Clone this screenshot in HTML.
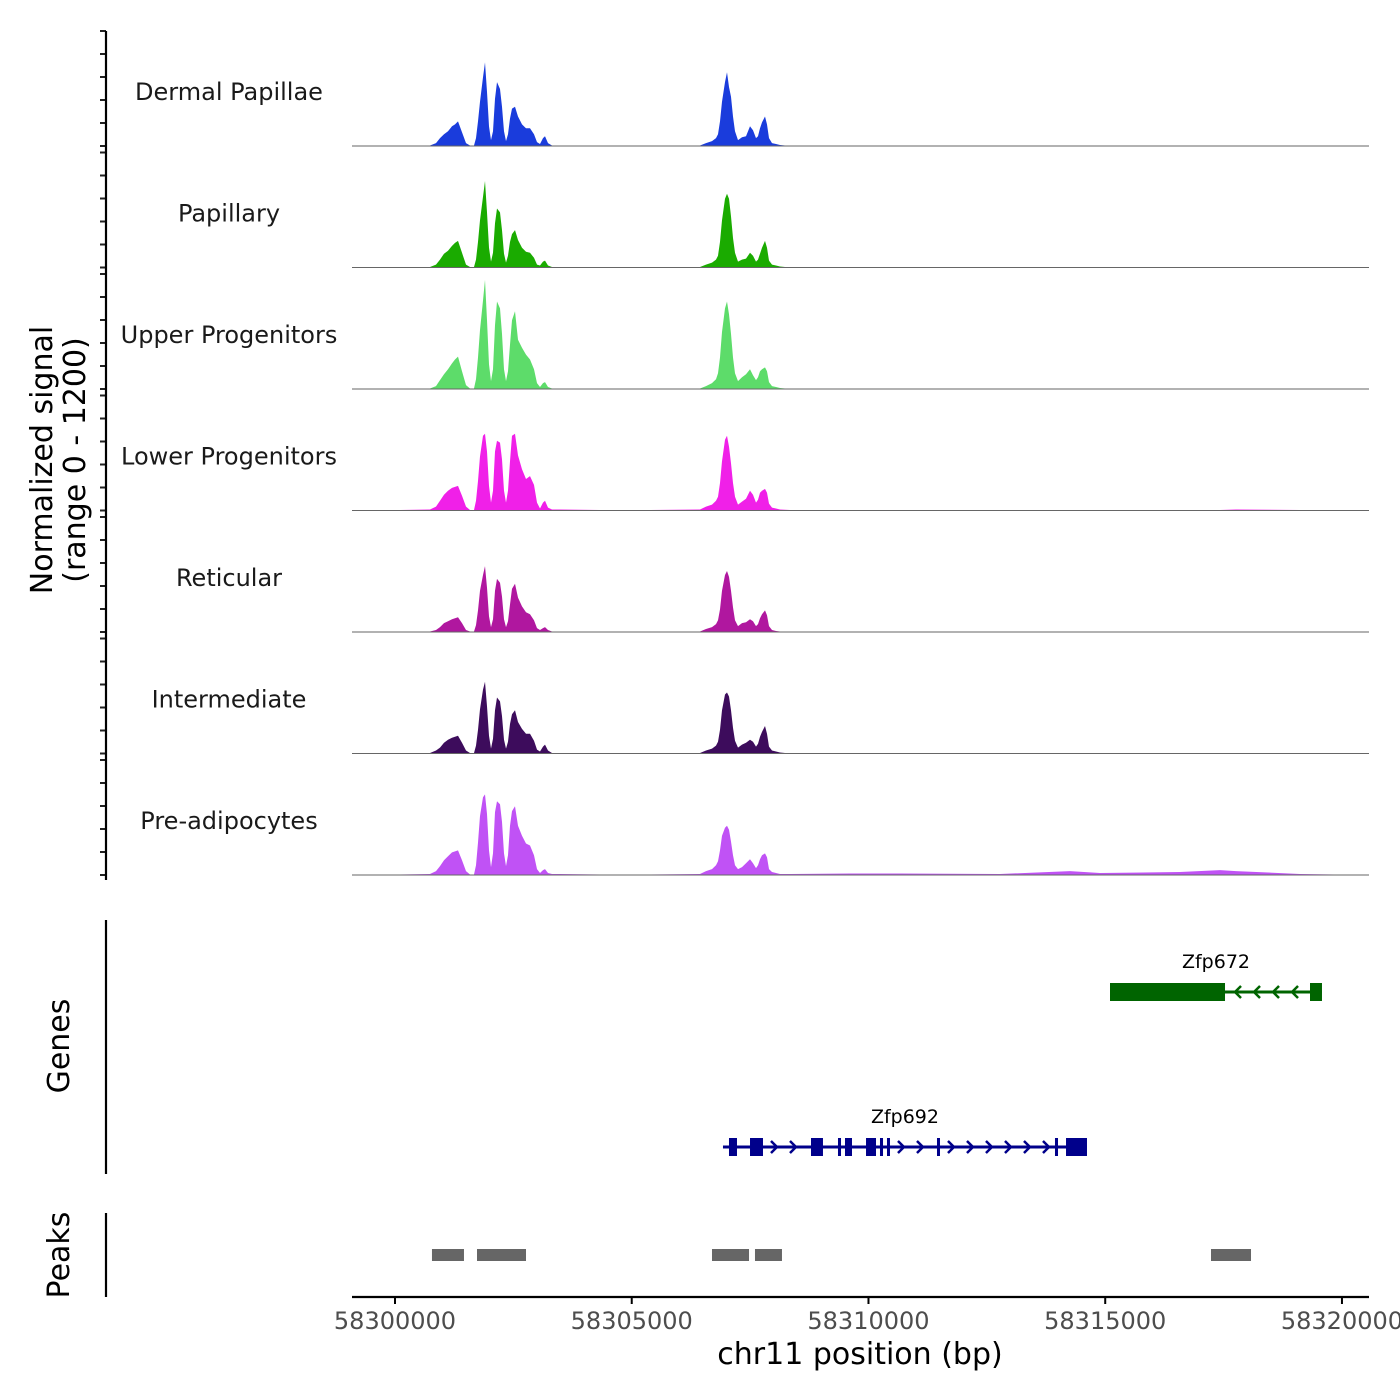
<!DOCTYPE html>
<html><head><meta charset="utf-8"><style>
body{margin:0;background:#fff}
svg{display:block;font-family:"DejaVu Sans","Liberation Sans",sans-serif}
</style></head><body>
<svg id="c" width="1400" height="1400" viewBox="0 0 1400 1400">
<g id="tracks"></g>
<g id="axes"></g>
<g id="genes"></g>
<g id="peaks"></g>
<text transform="translate(52,460) rotate(-90)" text-anchor="middle" font-size="30" fill="#000">Normalized signal</text>
<text transform="translate(85,460) rotate(-90)" text-anchor="middle" font-size="30" fill="#000">(range 0 - 1200)</text>
<text transform="translate(69,1046) rotate(-90)" text-anchor="middle" font-size="30" fill="#000">Genes</text>
<text transform="translate(69,1255) rotate(-90)" text-anchor="middle" font-size="30" fill="#000">Peaks</text>
<text x="860" y="1364" text-anchor="middle" font-size="30" fill="#000">chr11 position (bp)</text>
</svg>
<script>
const positions=[58299092,58300106,58300739,58300866,58300950,58301035,58301119,58301204,58301267,58301331,58301415,58301500,58301584,58301668,58301711,58301753,58301795,58301859,58301901,58301943,58301985,58302028,58302070,58302112,58302154,58302218,58302260,58302302,58302344,58302387,58302429,58302471,58302534,58302598,58302682,58302767,58302851,58302936,58302999,58303062,58303126,58303168,58303231,58303316,58303485,58304330,58305386,58306442,58306568,58306695,58306780,58306822,58306864,58306906,58306970,58307012,58307054,58307096,58307139,58307181,58307244,58307329,58307413,58307498,58307561,58307624,58307667,58307709,58307751,58307814,58307857,58307899,58307962,58308047,58308131,58308342,58309610,58310666,58312778,58314256,58314890,58316579,58317424,58317762,58319114,58320571];
const trackNames=["Dermal Papillae","Papillary","Upper Progenitors","Lower Progenitors","Reticular","Intermediate","Pre-adipocytes"];
const trackColors=["#1a3cdc","#1aab00","#5ddc6a","#f020e8","#b0179f","#3d0c5c","#c052f5"];
const dermal=[0,0,5,30,80,120,150,200,220,250,140,30,5,5,80,250,450,700,850,550,200,60,150,480,650,580,400,150,50,120,280,380,400,300,220,180,180,120,40,20,80,100,30,5,5,0,0,5,30,50,80,120,250,450,650,750,600,500,300,150,60,90,100,200,160,80,100,180,240,300,220,80,30,20,10,0,0,0,0,0,0,0,0,5,0,0];
const papillary=[0,0,5,30,80,140,170,220,250,270,150,30,5,5,80,260,480,720,880,560,200,60,150,450,600,560,380,140,50,120,260,340,380,280,200,160,150,100,30,20,60,70,20,5,5,0,0,5,30,50,80,120,260,480,700,750,700,520,300,150,60,80,90,150,120,60,80,140,200,270,200,70,30,20,10,0,0,0,0,0,0,0,0,5,0,0];
const upper=[0,0,5,30,90,150,200,260,300,330,180,40,5,5,100,320,600,900,1110,700,250,80,200,650,890,820,560,200,80,180,450,700,790,500,420,350,300,200,60,20,60,70,20,5,5,0,0,5,30,60,100,160,320,580,820,890,760,560,320,160,80,120,150,200,140,90,120,180,200,220,180,70,30,20,10,0,0,0,0,0,0,0,0,0,0,0];
const lower=[0,5,10,40,100,160,200,230,240,250,150,40,5,5,100,300,550,760,780,600,250,80,200,600,710,690,520,200,80,200,500,760,780,560,420,320,350,260,80,20,80,100,30,10,10,5,5,10,40,60,100,140,280,500,720,760,650,480,280,140,60,90,120,200,160,80,110,180,200,220,180,70,30,20,10,5,5,5,5,5,5,5,5,10,5,0];
const reticular=[0,0,5,20,50,90,110,130,140,150,90,20,5,5,70,220,420,580,670,450,160,50,130,420,540,500,360,130,50,110,280,440,490,350,260,200,180,120,40,20,40,50,20,5,5,0,0,5,30,50,80,120,230,420,580,620,560,420,250,120,60,90,100,130,110,60,80,140,180,220,170,60,20,10,5,0,0,0,0,0,0,0,0,5,0,0];
const intermediate=[0,0,5,30,60,110,140,160,170,180,110,30,5,5,80,240,450,650,730,480,180,50,150,440,570,530,380,140,50,120,300,400,440,320,250,200,200,130,40,20,70,90,30,5,5,0,0,5,30,50,80,120,240,440,600,620,580,440,260,130,60,90,110,140,120,70,100,170,220,280,200,70,30,20,10,0,0,0,0,0,0,0,0,5,0,0];
const preadipocytes=[0,5,10,40,90,150,190,230,240,250,150,40,5,5,100,330,600,790,820,620,250,80,220,640,750,720,540,220,90,200,500,650,700,500,400,320,300,200,60,20,50,60,20,10,10,5,5,10,40,60,100,140,250,400,480,500,460,340,200,100,60,80,120,160,120,70,100,160,200,220,180,60,30,20,10,10,15,15,10,40,20,30,50,40,10,0];
const trackValues=[dermal,papillary,upper,lower,reticular,intermediate,preadipocytes];
const xTicks=[58300000,58305000,58310000,58315000,58320000];
const peakStarts=[58300781,58301732,58306695,58307603,58317234];
const peakEnds=[58301457,58302767,58307477,58308173,58318079];
const geneNames=["Zfp672","Zfp692"];
const geneStarts=[58315101,58306927];
const geneEnds=[58319578,58314615];
const geneStrands=["-","+"];
const geneExonStarts=[[58315101,58319325],[58307054,58307498,58308786,58309356,58309504,58309948,58310243,58310391,58311447,58313939,58314172]];
const geneExonEnds=[[58317530,58319578],[58307223,58307772,58309039,58309420,58309652,58310159,58310307,58310454,58311510,58314003,58314615]];
const geneColors=["#006400","#00008b"];
const geneRows=[992,1147];

const NS="http://www.w3.org/2000/svg";
const X0=352,X1=1369,BP0=58299092,BP1=58320571;
const xs=bp=>X0+(bp-BP0)/(BP1-BP0)*(X1-X0);
const YMAX=1200,TH=118,base0=146,step=121.5;
const ys=(v,b)=>b-v/YMAX*TH;
function mk(tag,attrs,parent){const e=document.createElementNS(NS,tag);for(const k in attrs)e.setAttribute(k,attrs[k]);parent.appendChild(e);return e;}
const tracks=document.getElementById('tracks'),axes=document.getElementById('axes');
trackNames.forEach((name,i)=>{
  const b=base0+i*step;
  const g=mk('g',{},tracks);
  
  
  let d='M'+xs(positions[0])+','+b;
  trackValues[i].forEach((v,j)=>{d+=' L'+xs(positions[j]).toFixed(1)+','+ys(v,b).toFixed(1);});
  d+=' L'+xs(positions[positions.length-1])+','+b+' Z';
  const p=mk('path',{d:d,fill:trackColors[i],stroke:'none'},g);
  
  
  const l=mk('line',{x1:X0,x2:X1,y1:b,y2:b,stroke:'#666','stroke-width':1},g);
  
  
  const t=mk('text',{x:229,y:b-46,'text-anchor':'middle','font-size':24,fill:'#1a1a1a'},g);
  t.textContent=name;
  
  
  for(let k=0;k<=5;k++){
    const ty=b-k*23;
    const tk=mk('line',{x1:100,x2:106,y1:ty,y2:ty,stroke:'#222','stroke-width':2},axes);
    
    
  }
});
function axLine(x1,y1,x2,y2,name){const l=mk('line',{x1,y1,x2,y2,stroke:'#000','stroke-width':2.2},axes);}
axLine(106,31,106,880,'y-axis-line');
axLine(106,920,106,1174,'genes-axis-line');
axLine(106,1213,106,1297,'peaks-axis-line');
axLine(X0,1297,X1,1297,'x-axis-line');
xTicks.forEach(v=>{
  const x=xs(v);
  const tk=mk('line',{x1:x,x2:x,y1:1297,y2:1304,stroke:'#000','stroke-width':2},axes);
  
  
  const t=mk('text',{x:x,y:1329,'text-anchor':'middle','font-size':24,fill:'#4d4d4d'},axes);
  t.textContent=v;
  
  
});
const peaksG=document.getElementById('peaks');
peakStarts.forEach((s,i)=>{
  const r=mk('rect',{x:xs(s),y:1249,width:xs(peakEnds[i])-xs(s),height:12,fill:'#666'},peaksG);
  
  
});
const genesG=document.getElementById('genes');
geneNames.forEach((n,i)=>{
  const y=geneRows[i],c=geneColors[i];
  const g=mk('g',{},genesG);
  
  
  const x1=xs(geneStarts[i]),x2=xs(geneEnds[i]);
  const l=mk('line',{x1:x1,x2:x2,y1:y,y2:y,stroke:c,'stroke-width':3},g);
  
  
  const es=geneExonStarts[i],ee=geneExonEnds[i];
  for(let k=0;k<es.length-1;k++){
    const a=xs(ee[k]),b2=xs(es[k+1]);
    for(let ax=a+12;ax<b2-6;ax+=19){
      const dir=geneStrands[i]==='+'?1:-1;
      const ar=mk('polyline',{points:(ax-4*dir)+','+(y-6)+' '+(ax+2*dir)+','+y+' '+(ax-4*dir)+','+(y+6),fill:'none',stroke:c,'stroke-width':2.5},g);
      
      
    }
  }
  es.forEach((s,k)=>{
    const w=Math.max(3,xs(ee[k])-xs(s));
    const r=mk('rect',{x:xs(s),y:y-9,width:w,height:18,fill:c},g);
    
    
  });
  const t=mk('text',{x:(x1+x2)/2,y:y-24,'text-anchor':'middle','font-size':19,fill:'#000'},g);
  t.textContent=n;
  
  
});
</script>
</body></html>
